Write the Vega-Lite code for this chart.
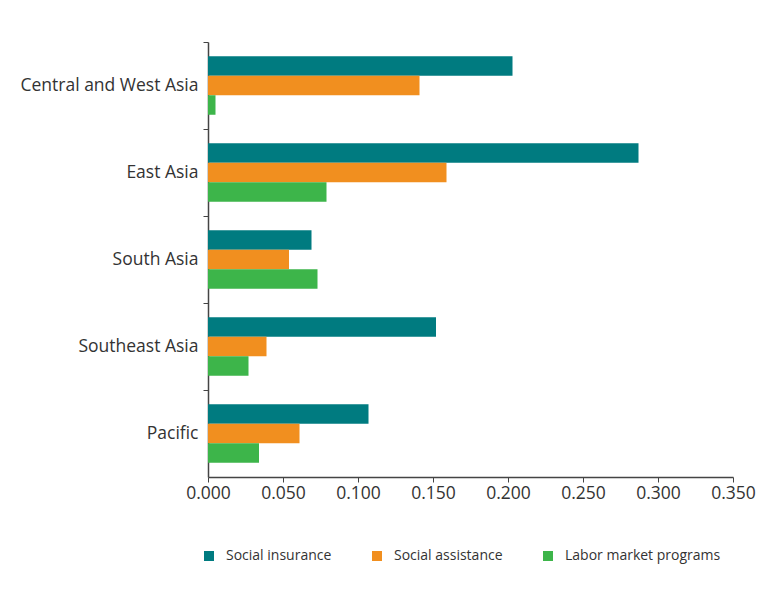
{
  "$schema": "https://vega.github.io/schema/vega-lite/v6.json",
  "autosize": "none",
  "width": 525,
  "height": 435,
  "padding": {"left": 208, "top": 42, "right": 29, "bottom": 119},
  "background": "white",
  "config": {
    "view": {"stroke": null},
    "font": "Open Sans",
    "axis": {"labelFont": "Open Sans", "labelColor": "#333333", "domainColor": "#444444", "tickColor": "#444444", "grid": false}
  },
  "data": {
    "values": [
      {"region": "Central and West Asia", "type": "Social insurance", "value": 0.203},
      {"region": "Central and West Asia", "type": "Social assistance", "value": 0.141},
      {"region": "Central and West Asia", "type": "Labor market programs", "value": 0.005},
      {"region": "East Asia", "type": "Social insurance", "value": 0.287},
      {"region": "East Asia", "type": "Social assistance", "value": 0.159},
      {"region": "East Asia", "type": "Labor market programs", "value": 0.079},
      {"region": "South Asia", "type": "Social insurance", "value": 0.069},
      {"region": "South Asia", "type": "Social assistance", "value": 0.054},
      {"region": "South Asia", "type": "Labor market programs", "value": 0.073},
      {"region": "Southeast Asia", "type": "Social insurance", "value": 0.152},
      {"region": "Southeast Asia", "type": "Social assistance", "value": 0.039},
      {"region": "Southeast Asia", "type": "Labor market programs", "value": 0.027},
      {"region": "Pacific", "type": "Social insurance", "value": 0.107},
      {"region": "Pacific", "type": "Social assistance", "value": 0.061},
      {"region": "Pacific", "type": "Labor market programs", "value": 0.034}
    ]
  },
  "mark": {"type": "bar"},
  "encoding": {
    "y": {
      "field": "region",
      "type": "nominal",
      "sort": ["Central and West Asia", "East Asia", "South Asia", "Southeast Asia", "Pacific"],
      "scale": {"paddingInner": 0, "paddingOuter": 0},
      "axis": {"title": null, "bandPosition": 0, "labelFontSize": 17.5, "labelPadding": 5, "tickSize": 5, "domainWidth": 1.5, "labelBaseline": "middle"}
    },
    "yOffset": {
      "field": "type",
      "type": "nominal",
      "sort": ["Social insurance", "Social assistance", "Labor market programs"],
      "scale": {"paddingOuter": 0.73, "paddingInner": 0}
    },
    "x": {
      "field": "value",
      "type": "quantitative",
      "scale": {"domain": [0, 0.35], "nice": false},
      "axis": {"title": null, "values": [0, 0.05, 0.1, 0.15, 0.2, 0.25, 0.3, 0.35], "format": ".3f", "labelFontSize": 17.5, "tickSize": 5, "labelPadding": 2, "domainWidth": 1.5, "labelFlush": false}
    },
    "color": {
      "field": "type",
      "type": "nominal",
      "sort": ["Social insurance", "Social assistance", "Labor market programs"],
      "scale": {"domain": ["Social insurance", "Social assistance", "Labor market programs"], "range": ["#007B80", "#F18F1F", "#3DB54A"]},
      "legend": {
        "title": null,
        "orient": "none",
        "direction": "horizontal",
        "legendX": -6,
        "legendY": 507,
        "symbolType": "square",
        "symbolSize": 100,
        "symbolStrokeWidth": 0,
        "labelFontSize": 14,
        "labelColor": "#333333",
        "labelFont": "Open Sans",
        "columnPadding": 38,
        "labelOffset": 10
      }
    }
  }
}
